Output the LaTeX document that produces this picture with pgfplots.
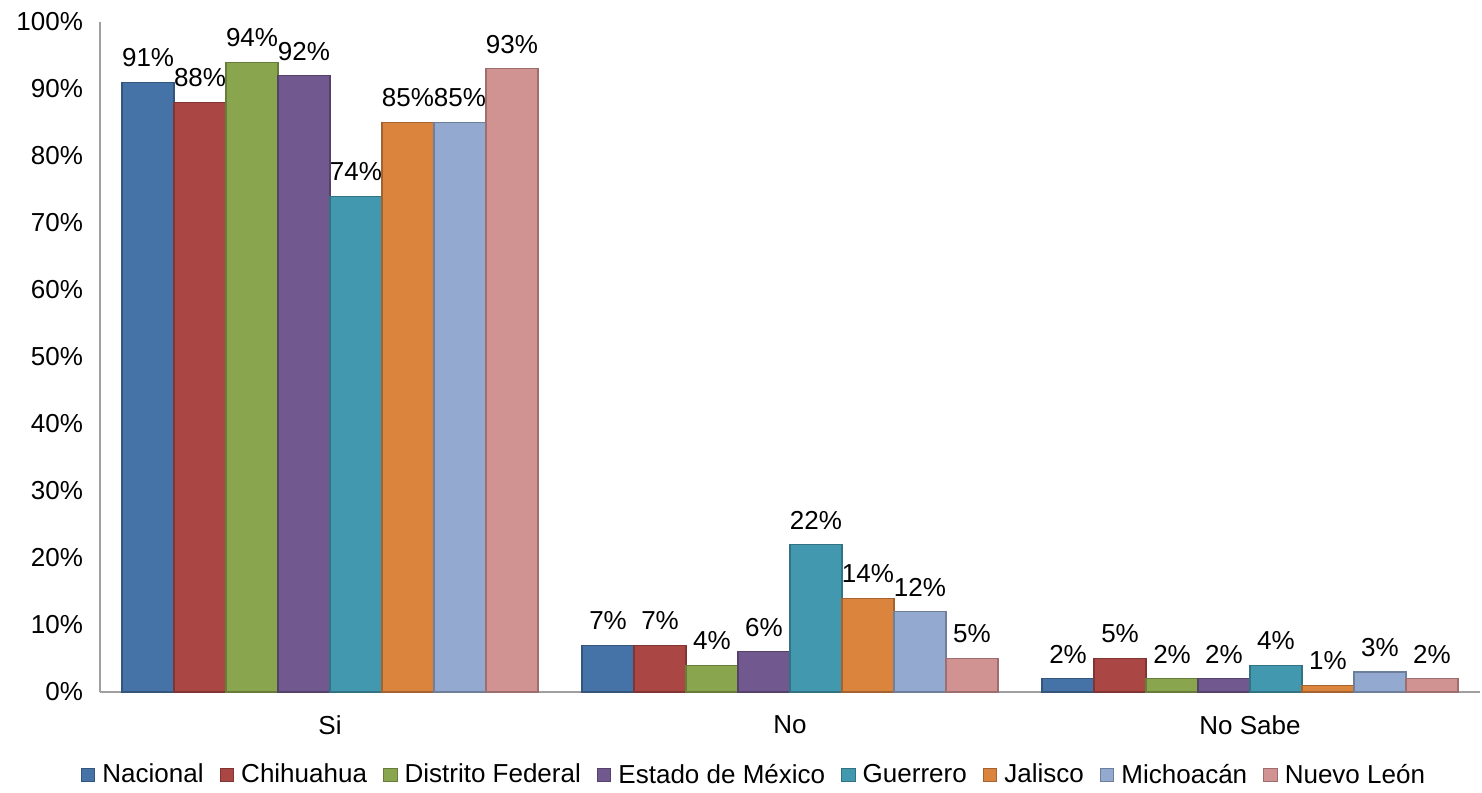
\documentclass[border=0pt]{standalone}
\usepackage{pgfplots}
\pgfplotsset{compat=1.18}
\usepackage{fontspec}
\setmainfont{Liberation Sans}
\definecolor{c1}{HTML}{4572A7}
\definecolor{c2}{HTML}{AA4643}
\definecolor{c3}{HTML}{89A54E}
\definecolor{c4}{HTML}{71588F}
\definecolor{c5}{HTML}{4198AF}
\definecolor{c6}{HTML}{DB843D}
\definecolor{c7}{HTML}{93A9CF}
\definecolor{c8}{HTML}{D19392}
\begin{document}
\begin{tikzpicture}
\begin{axis}[
  name=ax,
  scale only axis,
  width=690pt, height=335pt,
  ybar=0pt, bar width=0.113,
  xmin=-0.5, xmax=2.5, ymin=0, ymax=100,
  xtick={0,1,2}, xticklabels={Si,No,No Sabe},
  ytick={0,10,...,100},
  yticklabel={\pgfmathprintnumber{\tick}\%},
  /pgf/number format/assume math mode=true,
  axis x line=bottom, axis y line=left,
  axis line style={draw=gray!75, line width=0.9pt, -},
  major tick length=0pt,
  tick label style={font=\fontsize{13}{15}\selectfont},
  yticklabel style={xshift=-5pt},
  xticklabel style={yshift=-8.5pt},
  nodes near coords={\pgfmathprintnumber{\pgfplotspointmeta}\%},
  nodes near coords style={font=\fontsize{13}{15}\selectfont, /pgf/number format/assume math mode=true, yshift=4pt},
  every axis plot/.append style={line width=0.6pt},
  legend style={at={(0.4746,-0.124)}, anchor=center, draw=none, font=\fontsize{13}{15}\selectfont,
    inner sep=1pt,
    legend columns=8, /tikz/every even column/.append style={column sep=6pt},
    /tikz/every odd column/.append style={column sep=1.5pt}},
  legend image code/.code={\draw[#1, line width=0.5pt] (0pt,-3.4pt) rectangle (6.8pt,3.4pt);},
  clip=false,
]
\addplot[fill=c1, draw=c1!75!black] coordinates {(0,91) (1,7) (2,2)};
\addplot[fill=c2, draw=c2!75!black] coordinates {(0,88) (1,7) (2,5)};
\addplot[fill=c3, draw=c3!75!black] coordinates {(0,94) (1,4) (2,2)};
\addplot[fill=c4, draw=c4!75!black] coordinates {(0,92) (1,6) (2,2)};
\addplot[fill=c5, draw=c5!75!black] coordinates {(0,74) (1,22) (2,4)};
\addplot[fill=c6, draw=c6!75!black] coordinates {(0,85) (1,14) (2,1)};
\addplot[fill=c7, draw=c7!75!black] coordinates {(0,85) (1,12) (2,3)};
\addplot[fill=c8, draw=c8!75!black] coordinates {(0,93) (1,5) (2,2)};
\legend{Nacional, Chihuahua, Distrito Federal, Estado de México, Guerrero, Jalisco, Michoacán, Nuevo León}
\end{axis}
\pgfresetboundingbox
\path ([shift={(-50pt,-50pt)}]ax.south west) rectangle ([shift={(1pt,11pt)}]ax.north east);
\end{tikzpicture}
\end{document}
